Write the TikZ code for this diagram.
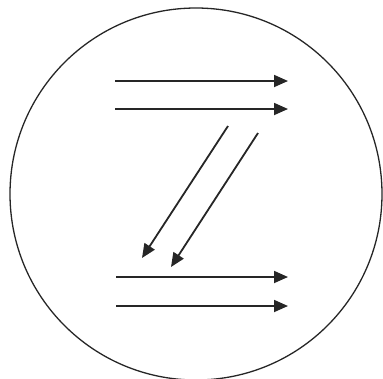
\documentclass[tikz,border=0pt]{standalone}
\usetikzlibrary{arrows.meta}

\begin{document}
\begin{tikzpicture}[x=1pt, y=-1pt,
  flow/.style={line width=1.8pt, draw=black!85, -{Triangle[length=14pt, width=12pt]}},
  rim/.style={line width=1.3pt, draw=black!85}
]
  \useasboundingbox (0,0) rectangle (383,378);

  % outer circle
  \draw[rim] (196,194) circle[radius=186];

  % end points of the arrows
  \coordinate (t1a) at (115,81);  \coordinate (t1b) at (288,81);
  \coordinate (t2a) at (115,109); \coordinate (t2b) at (288,109);
  \coordinate (d1a) at (228,126); \coordinate (d1b) at (142,258);
  \coordinate (d2a) at (258,133); \coordinate (d2b) at (171,267);
  \coordinate (b1a) at (116,277); \coordinate (b1b) at (288,277);
  \coordinate (b2a) at (116,306); \coordinate (b2b) at (288,306);

  % the Z
  \draw[flow] (t1a) -- (t1b);
  \draw[flow] (t2a) -- (t2b);
  \draw[flow] (d1a) -- (d1b);
  \draw[flow] (d2a) -- (d2b);
  \draw[flow] (b1a) -- (b1b);
  \draw[flow] (b2a) -- (b2b);
\end{tikzpicture}
\end{document}
